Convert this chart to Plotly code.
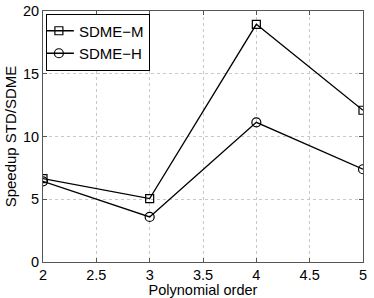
import plotly.graph_objects as go

orders = [2, 3, 4, 5]
sdme_m = [6.65, 5.05, 18.94, 12.09]
sdme_h = [6.43, 3.59, 11.13, 7.39]
x_ticks = [2, 2.5, 3, 3.5, 4, 4.5, 5]
x_tick_labels = ["2", "2.5", "3", "3.5", "4", "4.5", "5"]
y_ticks = [0, 5, 10, 15, 20]

font = "Liberation Sans, Arial, sans-serif"

fig = go.Figure()
fig.add_trace(go.Scatter(x=orders, y=sdme_m, name="SDME\u2212M", mode="lines+markers",
                         line=dict(color="black", width=1.3),
                         marker=dict(symbol="square-open", size=8, color="black", line=dict(width=1.2))))
fig.add_trace(go.Scatter(x=orders, y=sdme_h, name="SDME\u2212H", mode="lines+markers",
                         line=dict(color="black", width=1.3),
                         marker=dict(symbol="circle-open", size=9, color="black", line=dict(width=1.2))))

axis_common = dict(showline=True, linecolor="#555555", linewidth=1, mirror="ticks",
                   ticks="inside", ticklen=4, tickcolor="#555555",
                   showgrid=True, gridcolor="#c8c8c8", griddash="dot", gridwidth=1,
                   zeroline=False, automargin=False, ticklabeloverflow="allow",
                   tickfont=dict(family=font, size=14.5, color="black"))

fig.update_layout(
    width=374, height=298,
    margin=dict(l=43, r=11, t=11, b=36, autoexpand=False),
    paper_bgcolor="white", plot_bgcolor="white",
    font=dict(family=font, size=15, color="black"),
    showlegend=True,
    legend=dict(x=0.009, y=0.99, xanchor="left", yanchor="top",
                bgcolor="white", bordercolor="black", borderwidth=1,
                font=dict(family=font, size=15), tracegroupgap=0,
                itemwidth=30, indentation=-8),
    xaxis=dict(range=[2, 5], tickvals=x_ticks, ticktext=x_tick_labels,
               title=dict(text="Polynomial order", standoff=2, font=dict(size=14.5)),
               **axis_common),
    yaxis=dict(range=[0, 20], tickvals=y_ticks,
               title=dict(text="Speedup STD/SDME", standoff=2, font=dict(size=15)),
               **axis_common),
)

fig.write_html("out.html", config={"displayModeBar": False},
               post_script="document.body.style.margin='0';document.body.style.padding='0';")
